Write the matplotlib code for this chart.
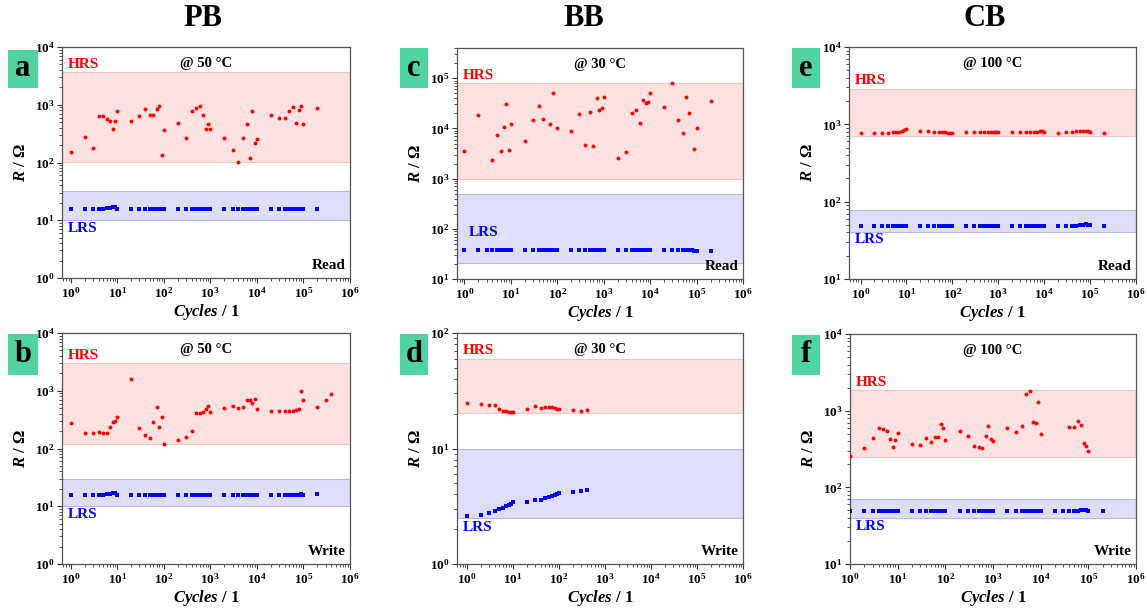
"""
PB / BB / CB 器件在读写循环中的 HRS / LRS 电阻分布
"""
import numpy as np
import matplotlib
matplotlib.use("Agg")
import matplotlib.pyplot as plt
from matplotlib.patches import Rectangle
import matplotlib.transforms as mtransforms
import matplotlib.ticker as mticker

plt.rcParams['font.family'] = ['Liberation Serif', 'DejaVu Serif']
plt.rcParams['font.weight'] = 'bold'
plt.rcParams['mathtext.fontset'] = 'custom'
plt.rcParams['mathtext.rm'] = 'Liberation Serif:bold'
plt.rcParams['mathtext.it'] = 'Liberation Serif:italic:bold'
plt.rcParams['mathtext.bf'] = 'Liberation Serif:bold'
plt.rcParams['mathtext.bfit'] = 'Liberation Serif:italic:bold'

# ---------------- 数据 ----------------
cycles = [1, 2, 3, 4, 5, 6, 7, 8, 9, 10,
          20, 30, 40, 50, 60, 70, 80, 90, 100,
          200, 300, 400, 500, 600, 700, 800, 900, 1000,
          2000, 3000, 4000, 5000, 6000, 7000, 8000, 9000, 10000,
          2e4, 3e4, 4e4, 5e4, 6e4, 7e4, 8e4, 9e4, 1e5,
          2e5]

# (a) PB read @ 50 °C
a_hrs = [155, 278, 177, 635, 640, 563, 520, 387, 515, 780,
         515, 650, 850, 675, 675, 860, 955, 134, 362,
         490, 267, 770, 890, 965, 660, 378, 465, 382,
         267, 165, 104, 263, 455, 120, 780, 218, 253,
         675, 600, 600, 780, 910, 478, 800, 955, 465,
         870]
a_lrs = [15.5, 15.6, 15.6, 15.8, 15.9, 16.0, 16.3, 16.8, 17.2, 15.8,
         15.5, 15.6, 15.6, 15.6, 15.7, 15.7, 15.8, 15.8, 15.8,
         15.6, 15.6, 15.6, 15.7, 15.7, 15.7, 15.8, 15.8, 15.8,
         15.6, 15.6, 15.6, 15.7, 15.7, 15.7, 15.8, 15.8, 15.8,
         15.6, 15.6, 15.6, 15.7, 15.7, 15.8, 15.8, 15.9, 15.9,
         15.9]

# (b) PB write @ 50 °C
b_cyc_hrs = cycles + [3e5, 4e5]
b_hrs = [272, 182, 185, 190, 185, 185, 233, 290, 305, 355,
         1590, 230, 173, 155, 290, 520, 237, 355, 120,
         143, 160, 197, 420, 420, 425, 480, 543, 436,
         500, 555, 500, 530, 690, 690, 610, 715, 480,
         445, 450, 445, 445, 450, 455, 480, 990, 700,
         525, 680, 890]
b_lrs = [15.5, 15.6, 15.7, 15.8, 15.9, 16.0, 16.3, 16.8, 17.0, 15.8,
         15.5, 15.5, 15.6, 15.6, 15.6, 15.7, 15.7, 15.7, 15.8,
         15.5, 15.6, 15.6, 15.6, 15.7, 15.7, 15.7, 15.8, 15.8,
         15.6, 15.6, 15.6, 15.7, 15.7, 15.7, 15.8, 15.8, 15.8,
         15.6, 15.6, 15.6, 15.7, 15.7, 15.8, 15.9, 16.0, 15.9,
         16.0]

# (c) BB read @ 30 °C
c_cyc_hrs = [1, 2, 4, 5, 6, 7, 8, 9, 10,
             20, 30, 40, 50, 70, 80, 100,
             200, 300, 400, 500, 600, 700, 800, 900, 1000,
             2000, 3000, 4000, 5000, 6000, 7000, 8000, 9000, 10000,
             2e4, 3e4, 4e4, 5e4, 6e4, 7e4, 9e4, 1e5,
             2e5]
c_hrs = [3550, 18700, 2400, 7400, 3600, 10500, 30000, 3780, 12400,
         5600, 15000, 28000, 15500, 12000, 51000, 10000,
         8700, 19500, 4750, 21700, 4450, 39600, 23000, 25000, 42000,
         2570, 3430, 20000, 23000, 12800, 37000, 32500, 34000, 51000,
         26500, 80000, 15000, 8200, 43000, 20000, 3900, 10300,
         35500]
c_lrs = [37.5, 37.5, 37.5, 37.5, 37.8, 38.0, 38.0, 38.2, 38.2, 38.2,
         38.0, 38.0, 38.0, 38.2, 38.2, 38.3, 38.3, 38.0, 38.0,
         38.0, 38.0, 38.2, 38.2, 38.3, 38.3, 38.0, 38.0, 38.0,
         38.0, 38.0, 38.0, 38.2, 38.2, 37.8, 37.8, 37.6, 37.5,
         37.5, 37.8, 38.0, 38.0, 38.0, 37.8, 37.6, 36.8, 36.5,
         36.2]

# (d) BB write @ 30 °C
d_cyc = [1, 2, 3, 4, 5, 6, 7, 8, 9, 10,
         20, 30, 40, 50, 60, 70, 80, 90, 100,
         200, 300, 400]
d_hrs = [24.8, 24.3, 23.9, 23.9, 21.8, 21.1, 21.0, 20.8, 20.8, 20.7,
         22.1, 23.5, 22.2, 22.9, 23.0, 22.7, 22.2, 22.1, 22.1,
         21.4, 21.1, 21.6]
d_lrs = [2.61, 2.68, 2.77, 2.87, 2.99, 3.05, 3.15, 3.21, 3.33, 3.41,
         3.44, 3.55, 3.60, 3.72, 3.77, 3.85, 3.93, 4.03, 4.11,
         4.22, 4.25, 4.37]

# (e) CB read @ 100 °C
e_hrs = [780, 780, 780, 780, 785, 790, 800, 815, 835, 860,
         830, 820, 800, 800, 790, 790, 780, 780, 780,
         785, 790, 790, 790, 790, 790, 790, 790, 790,
         795, 790, 790, 790, 795, 800, 810, 810, 800,
         780, 790, 800, 810, 820, 830, 825, 810, 800,
         780]
e_lrs = [48.0, 48.0, 48.0, 48.0, 48.5, 48.5, 48.5, 49.0, 49.0, 49.0,
         48.5, 48.5, 48.5, 48.5, 48.5, 49.0, 49.0, 49.0, 49.0,
         48.5, 48.5, 48.5, 48.5, 48.5, 49.0, 49.0, 49.0, 49.0,
         48.5, 48.5, 48.5, 48.5, 48.5, 49.0, 49.0, 49.0, 49.0,
         48.5, 48.5, 48.5, 49.0, 49.5, 50.5, 51.0, 50.5, 49.5,
         48.5]

# (f) CB write @ 100 °C
f_cyc_hrs = cycles[:37] + [4e4, 5e4, 6e4, 7e4, 8e4, 9e4, 1e5]
f_hrs = [259, 329, 435, 594, 583, 548, 431, 339, 410, 512,
         367, 360, 435, 386, 458, 458, 676, 588, 419,
         538, 467, 349, 335, 329, 472, 637, 428, 398,
         600, 527, 625, 1630, 1800, 711, 700, 1285, 500,
         612, 612, 740, 644, 383, 343, 298]
f_lrs = [48.5, 48.5, 48.5, 48.5, 48.5, 48.5, 48.5, 48.5, 48.5, 48.5,
         48.5, 48.5, 48.5, 48.5, 48.5, 48.5, 48.5, 48.5, 48.5,
         48.5, 48.5, 48.5, 48.5, 48.5, 48.5, 48.5, 48.5, 48.5,
         48.5, 48.5, 48.5, 48.5, 48.5, 48.5, 48.5, 48.5, 48.5,
         48.5, 48.5, 48.5, 48.5, 49.5, 50.0, 50.5, 50.0, 49.0,
         48.5]

col_titles = ['PB', 'BB', 'CB']

# ---------------- 面板配置 ----------------
# 像素位置: (left, right, top, bottom)
W, H = 1147, 609
panels = [
    dict(tag='a', box=(62, 350, 47, 278), lab=(8, 38, 50, 88), temp='@ 50 °C', mode='Read',
         x_h=cycles, y_h=a_hrs, x_l=cycles, y_l=a_lrs, ylim=(1, 1e4), xmin=0.65,
         hband=(103, 3.7e3), lband=(10, 31.6), lrs_pos='below'),
    dict(tag='c', box=(457, 743, 48, 279), lab=(400, 428, 48, 88), temp='@ 30 °C', mode='Read',
         x_h=c_cyc_hrs, y_h=c_hrs, x_l=cycles, y_l=c_lrs, ylim=(10, 4e5), xmin=0.69,
         hband=(1e3, 8.2e4), lband=(20.5, 500), lrs_pos='inside', lrs_y=83),
    dict(tag='e', box=(849, 1136, 47, 279), lab=(792, 820, 48, 88), temp='@ 100 °C', mode='Read',
         x_h=cycles, y_h=e_hrs, x_l=cycles, y_l=e_lrs, ylim=(10, 1e4), xmin=0.56,
         hband=(700, 2.9e3), lband=(41, 78), lrs_pos='below'),
    dict(tag='b', box=(62, 350, 333, 564), lab=(8, 38, 334, 375), temp='@ 50 °C', mode='Write',
         x_h=b_cyc_hrs, y_h=b_hrs, x_l=cycles, y_l=b_lrs, ylim=(1, 1e4), xmin=0.65,
         hband=(118, 3e3), lband=(10, 30), lrs_pos='below'),
    dict(tag='d', box=(457, 743, 333, 564), lab=(400, 428, 334, 375), temp='@ 30 °C', mode='Write',
         x_h=d_cyc, y_h=d_hrs, x_l=d_cyc, y_l=d_lrs, ylim=(1, 100), xmin=0.6,
         hband=(20.2, 60), lband=(2.5, 10), lrs_pos='below'),
    dict(tag='f', box=(850, 1136, 334, 564), lab=(792, 820, 335, 375), temp='@ 100 °C', mode='Write',
         x_h=f_cyc_hrs, y_h=f_hrs, x_l=cycles, y_l=f_lrs, ylim=(10, 1e4), xmin=1,
         hband=(250, 1.85e3), lband=(40, 70), lrs_pos='below'),
]

fig = plt.figure(figsize=(W / 100, H / 100), dpi=100)


def decades(lo, hi):
    return [10.0 ** k for k in range(int(np.ceil(np.log10(lo) - 1e-9)),
                                     int(np.floor(np.log10(hi) + 1e-9)) + 1)]


for p in panels:
    l, r, t, b = p['box']
    ax = fig.add_axes([l / W, 1 - b / H, (r - l) / W, (b - t) / H])
    ax.set_xscale('log')
    ax.set_yscale('log')
    ax.set_xlim(p['xmin'], 1e6)
    ax.set_ylim(*p['ylim'])

    # HRS / LRS 区间
    ax.axhspan(*p['hband'], facecolor='#fde0e0', edgecolor='#efc6c6', lw=0.8, zorder=0)
    ax.axhspan(*p['lband'], facecolor='#dedefa', edgecolor='#b8b8e6', lw=0.8, zorder=0)

    ax.plot(p['x_h'], p['y_h'], 'o', color='#ff0000', ms=2.8, mew=0, zorder=3)
    ax.plot(p['x_l'], p['y_l'], 's', color='#0000ff', ms=2.3, mew=0, zorder=3)

    trans = mtransforms.blended_transform_factory(ax.transAxes, ax.transData)
    ax.text(0.02, p['hband'][1] * 1.04, 'HRS', color='#ff0000', fontsize=11,
            fontweight='bold', ha='left', va='bottom', transform=trans)
    if p['lrs_pos'] == 'inside':
        ax.text(0.04, p['lrs_y'], 'LRS', color='#0000ff', fontsize=11,
                fontweight='bold', ha='left', va='center', transform=trans)
    else:
        ax.text(0.02, p['lband'][0] * 0.95, 'LRS', color='#0000ff', fontsize=11,
                fontweight='bold', ha='left', va='top', transform=trans)

    ax.text(0.5, 0.93, p['temp'], transform=ax.transAxes, ha='center', va='center',
            fontsize=10.5, fontweight='bold')
    ax.text(0.985, 0.025, p['mode'], transform=ax.transAxes, ha='right', va='bottom',
            fontsize=11, fontweight='bold')

    ax.xaxis.set_major_locator(mticker.FixedLocator(decades(p['xmin'], 1e6)))
    ax.yaxis.set_major_locator(mticker.FixedLocator(decades(*p['ylim'])))
    ax.xaxis.set_minor_locator(mticker.LogLocator(base=10, subs=range(2, 10), numticks=10))
    ax.yaxis.set_minor_locator(mticker.LogLocator(base=10, subs=range(2, 10), numticks=10))
    ax.yaxis.set_minor_formatter(mticker.NullFormatter())
    ax.xaxis.set_minor_formatter(mticker.NullFormatter())
    ax.xaxis.set_major_formatter(mticker.LogFormatterSciNotation())
    ax.yaxis.set_major_formatter(mticker.LogFormatterSciNotation())
    ax.tick_params(which='major', direction='out', length=3.5, width=0.8,
                   labelsize=9.5, pad=2, color='#333333')
    ax.tick_params(which='minor', direction='out', length=2, width=0.6, color='#333333')
    for s in ax.spines.values():
        s.set_color('#555555')
        s.set_linewidth(0.9)

    ax.set_xlabel(r'$\mathbfit{Cycles}$ / 1', fontsize=12, fontweight='bold', labelpad=1)
    ax.set_ylabel(r'$\mathbfit{R}$ / Ω', fontsize=12, fontweight='bold', labelpad=4)

    # 绿色编号方块
    bl, br, bt, bb = p['lab']
    fig.patches.append(Rectangle((bl / W, 1 - bb / H), (br - bl) / W, (bb - bt) / H,
                                 transform=fig.transFigure, facecolor='#50d3a0',
                                 edgecolor='none', zorder=5))
    fig.text((bl + br) / 2 / W, 1 - (bt + bb) / 2 / H, p['tag'], ha='center', va='center',
             fontsize=22, fontweight='bold', color='black', zorder=6)

for x_px, title in zip([203, 584, 985], col_titles):
    fig.text(x_px / W, 1 - 19 / H, title, ha='center', va='center',
             fontsize=22, fontweight='bold')

fig.savefig('out.png', dpi=100)
